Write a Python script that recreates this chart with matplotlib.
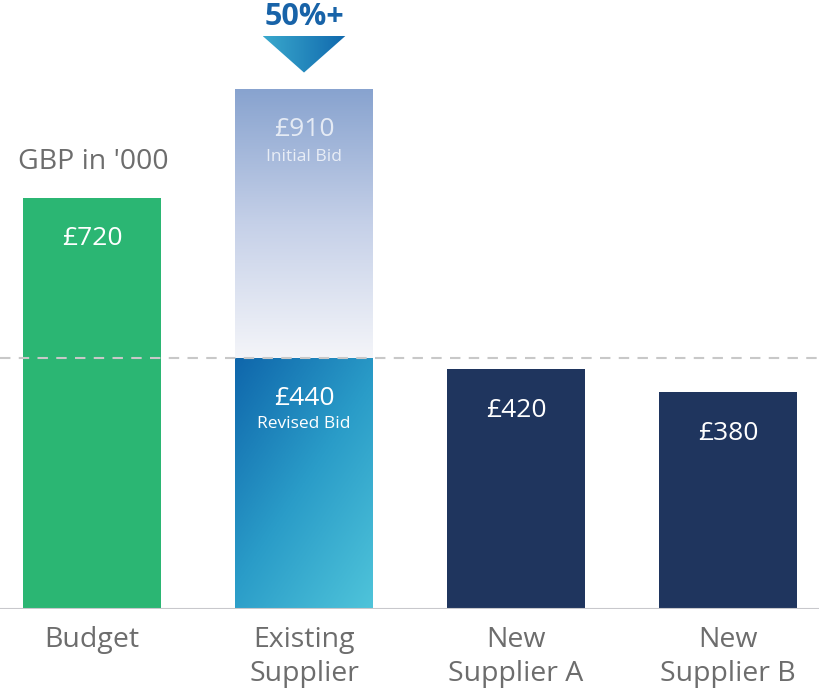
import numpy as np
import matplotlib
matplotlib.use("Agg")
import matplotlib.pyplot as plt
from matplotlib.patches import Polygon
from matplotlib.colors import LinearSegmentedColormap

plt.rcParams['font.family'] = ['Open Sans', 'DejaVu Sans']

# data
categories = ['Budget', 'Existing\nSupplier', 'New\nSupplier A', 'New\nSupplier B']
values = [720, 440, 420, 380]
initial_bid = 910
sub_labels = ['', 'Revised Bid', '', '']
colors = ['#2bb673', '#1a78b8', '#1f355e', '#1f355e']
drop_label = '50%+'

fig = plt.figure(figsize=(8.2, 6.88), dpi=100)
ax = fig.add_axes([0, 79 / 688, 1, 609 / 688])
ax.set_xlim(-0.434, 3.434)
ax.set_ylim(0, 1066)
ax.axis('off')

x = np.arange(len(categories))
w = 0.65

# initial bid (faded)
ib = ax.bar(x[1], initial_bid, width=w, color='none', zorder=1)[0]
fade = LinearSegmentedColormap.from_list('fade', ['#f4f5f9', '#c5d0e8', '#88a3cf'])
grad = np.linspace(0, 1, 256).reshape(-1, 1)
im = ax.imshow(grad, cmap=fade, origin='lower', aspect='auto',
               extent=[x[1] - w / 2, x[1] + w / 2, values[1], initial_bid], zorder=1)
im.set_clip_path(ib)

bars = ax.bar(x, values, width=w, color=colors, zorder=2)

# diagonal gradient on revised bid
rev = LinearSegmentedColormap.from_list('rev', ['#0f66ab', '#2a9cc8', '#4fc4da'])
gx, gy = np.meshgrid(np.linspace(0, 1, 200), np.linspace(1, 0, 200))
im2 = ax.imshow(gx * 0.45 + gy * 0.55, cmap=rev, origin='lower', aspect='auto',
                extent=[x[1] - w / 2, x[1] + w / 2, 0, values[1]], zorder=3)
im2.set_clip_path(bars[1])

# dashed reference line at revised bid
ax.axhline(values[1], color='#c8c8c8', lw=1.5, ls=(0, (5, 4)), zorder=4)
ax.axhline(0, color='#c8c8cc', lw=1.5, zorder=4)

# value labels
for i, v in enumerate(values):
    ax.text(x[i], v - 72, f'£{v}', ha='center', va='center', color='white',
            fontsize=19, zorder=5)
    if sub_labels[i]:
        ax.text(x[i], v - 117, sub_labels[i], ha='center', va='center',
                color='white', fontsize=12.5, zorder=5)

ax.text(x[1], initial_bid - 70, f'£{initial_bid}', ha='center', va='center',
        color='white', alpha=0.75, fontsize=19, zorder=5)
ax.text(x[1], initial_bid - 118, 'Initial Bid', ha='center', va='center',
        color='white', alpha=0.75, fontsize=12.5, zorder=5)

# reduction marker
ax.text(x[1], 1022, drop_label, ha='center', va='baseline', color='#1863a8',
        fontsize=22, fontweight='bold', clip_on=False, zorder=5)
tri = Polygon([[x[1] - 0.195, 1003], [x[1] + 0.195, 1003], [x[1], 939]],
              closed=True, facecolor='none', edgecolor='none')
ax.add_patch(tri)
tg = LinearSegmentedColormap.from_list('tri', ['#3aa9cd', '#1068ad'])
im3 = ax.imshow(np.linspace(0, 1, 256).reshape(1, -1), cmap=tg, aspect='auto',
                extent=[x[1] - 0.195, x[1] + 0.195, 939, 1003], zorder=5)
im3.set_clip_path(tri)

ax.text(x[0] - 0.35, 782, "GBP in '000", ha='left', va='center', color='#6d6d6d',
        fontsize=20.5)

# category labels
for i, c in enumerate(categories):
    ax.text(x[i], -29, c, ha='center', va='top', color='#6d6d6d', fontsize=20.5,
            linespacing=1.3, clip_on=False)

ax.set_xlim(-0.434, 3.434)
ax.set_ylim(0, 1066)
fig.savefig('out.png', dpi=100)
